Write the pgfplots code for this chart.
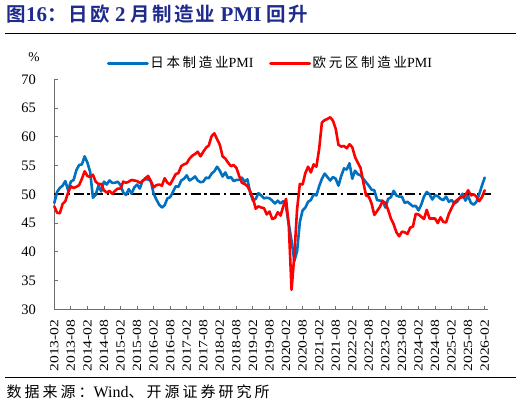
\documentclass[border=0pt]{standalone}
\usepackage{pgfplots}
\pgfplotsset{compat=1.18}
\usepackage{fontspec}
\setmainfont{Liberation Serif}
\newfontfamily\cjk{Noto Sans CJK SC}[BoldFont={Noto Sans CJK SC Bold}]
\definecolor{jpblue}{HTML}{0070C0}
\definecolor{eured}{HTML}{FF0000}
\definecolor{titleblue}{HTML}{1E2A8C}
\definecolor{axisgray}{HTML}{6E6E6E}
\newcommand{\tc}[1]{{\cjk\bfseries\fontsize{19.5}{21}\selectfont\addfontfeature{LetterSpace=11}#1}}
\newcommand{\tl}[1]{{\bfseries\fontsize{21}{22}\selectfont #1}}
\newcommand{\lc}[1]{{\cjk\fontsize{13.5}{15}\selectfont\addfontfeature{LetterSpace=20}#1}}
\newcommand{\srcc}[1]{{\cjk\fontsize{15}{16}\selectfont\addfontfeature{LetterSpace=20}#1}}
\newcommand{\xl}[1]{\scalebox{1.25}[1]{#1}}
\begin{document}
\begin{tikzpicture}
\useasboundingbox (0pt,0pt) rectangle (522pt,-407pt);
\node[anchor=west, inner sep=0pt, text=titleblue] at (6.5pt,-14.5pt) {\tc{图}\tl{16}\tc{：日欧}\tl{\ 2\ }\tc{月制造业}\tl{\ PMI\ }\tc{回升}};
\draw[line width=1pt] (5pt,-33.3pt) -- (516pt,-33.3pt);
\node[inner sep=0pt, font=\fontsize{13.5}{14}\selectfont] at (34pt,-57.5pt) {\%};
\begin{axis}[
  at={(54.3pt,-309.3pt)}, anchor=south west,
  scale only axis, width=433.7pt, height=230pt,
  xmin=0, xmax=157.2, ymin=30, ymax=70,
  axis x line*=bottom, axis y line*=left,
  axis line style={draw=axisgray, line width=0.9pt, -},
  tick style={draw=axisgray, line width=0.9pt},
  tick align=inside,
  major tick length=3.5pt,
  xtick={0,6,...,156},
  xticklabels={\xl{2013-02},\xl{2013-08},\xl{2014-02},\xl{2014-08},\xl{2015-02},\xl{2015-08},\xl{2016-02},\xl{2016-08},\xl{2017-02},\xl{2017-08},\xl{2018-02},\xl{2018-08},\xl{2019-02},\xl{2019-08},\xl{2020-02},\xl{2020-08},\xl{2021-02},\xl{2021-08},\xl{2022-02},\xl{2022-08},\xl{2023-02},\xl{2023-08},\xl{2024-02},\xl{2024-08},\xl{2025-02},\xl{2025-08},\xl{2026-02}},
  xticklabel style={rotate=90, anchor=east, inner sep=0pt, font=\fontsize{12.5}{13}\selectfont},
  xticklabel shift=10pt,
  ytick={30,35,...,70},
  yticklabel style={anchor=east, inner sep=0pt, xshift=-18.3pt, font=\fontsize{14.5}{15}\selectfont},
  /pgf/number format/assume math mode=true,
  clip=false,
  legend columns=2,
  legend style={draw=none, fill=none, at={(0.5,1)}, anchor=center, yshift=16.3pt, xshift=-1pt,
    font=\fontsize{14}{15}\selectfont,
    /tikz/every even column/.append style={column sep=14pt},
    nodes={inner sep=1.5pt}},
  legend cell align=left,
  legend image code/.code={\draw[#1, line width=3pt] (0pt,0pt) -- (39pt,0pt);},
]
\addplot[forget plot, black, line width=1.7pt, dash pattern=on 10pt off 3.5pt on 2.5pt off 3.5pt] coordinates {(0,50) (158.4,50)};
\addplot[jpblue, line width=2.6pt, line join=round, line cap=round] coordinates {
(0,48.5) (1,50.4) (2,51.1) (3,51.5) (4,52.3) (5,50.7) (6,52.2) (7,52.5) (8,54.2) (9,55.1) (10,55.2)
(11,56.6) (12,55.5) (13,53.9) (14,49.4) (15,49.9) (16,51.5) (17,50.5) (18,52.2) (19,51.7) (20,52.4) (21,52.0) (22,52.0)
(23,52.2) (24,51.6) (25,50.3) (26,49.9) (27,50.9) (28,50.1) (29,51.2) (30,51.7) (31,51.0) (32,52.4) (33,52.6) (34,52.6)
(35,52.3) (36,50.1) (37,49.1) (38,48.2) (39,47.7) (40,48.1) (41,49.3) (42,49.5) (43,50.4) (44,51.4) (45,51.3) (46,52.4)
(47,52.7) (48,53.3) (49,52.4) (50,52.7) (51,53.1) (52,52.4) (53,52.1) (54,52.2) (55,52.9) (56,52.8) (57,53.6) (58,54.0)
(59,54.8) (60,54.1) (61,53.1) (62,53.8) (63,52.8) (64,53.0) (65,52.3) (66,52.5) (67,52.5) (68,52.9) (69,52.2) (70,52.6)
(71,50.3) (72,48.9) (73,49.2) (74,50.2) (75,49.8) (76,49.3) (77,49.4) (78,49.3) (79,48.9) (80,48.4) (81,48.9) (82,48.4)
(83,48.8) (84,47.8) (85,44.8) (86,41.9) (87,38.4) (88,40.1) (89,45.2) (90,47.2) (91,47.7) (92,48.7) (93,49.0) (94,50.0)
(95,49.8) (96,51.4) (97,52.7) (98,53.6) (99,53.0) (100,52.4) (101,53.0) (102,52.7) (103,51.5) (104,53.2) (105,54.5) (106,54.3)
(107,55.4) (108,52.7) (109,54.1) (110,53.5) (111,53.3) (112,52.7) (113,52.1) (114,51.5) (115,50.8) (116,50.7) (117,49.0) (118,48.9)
(119,48.9) (120,47.7) (121,49.2) (122,49.5) (123,50.6) (124,49.8) (125,49.6) (126,49.6) (127,48.5) (128,48.7) (129,48.3) (130,47.9)
(131,48.0) (132,47.2) (133,48.2) (134,49.6) (135,50.4) (136,50.0) (137,49.1) (138,49.8) (139,49.7) (140,49.2) (141,49.0) (142,49.6)
(143,48.7) (144,49.0) (145,48.4) (146,48.7) (147,49.4) (148,50.1) (149,48.9) (150,49.7) (151,48.5) (152,48.2) (153,48.7) (154,50.0)
(155,51.5) (156,52.9)
};
\addlegendentry{\lc{日本制造业}PMI}
\addplot[eured, line width=2.6pt, line join=round, line cap=round] coordinates {
(0,47.9) (1,46.8) (2,46.7) (3,48.3) (4,48.8) (5,50.3) (6,51.4) (7,51.1) (8,51.3) (9,51.6) (10,52.7)
(11,54.0) (12,53.2) (13,53.0) (14,53.4) (15,52.2) (16,51.8) (17,51.8) (18,50.7) (19,50.3) (20,50.6) (21,50.1) (22,50.6)
(23,51.0) (24,51.0) (25,52.2) (26,52.0) (27,52.2) (28,52.5) (29,52.4) (30,52.3) (31,52.0) (32,52.3) (33,52.8) (34,53.2)
(35,52.3) (36,51.2) (37,51.6) (38,51.7) (39,51.5) (40,52.8) (41,52.0) (42,51.7) (43,52.6) (44,53.5) (45,53.7) (46,54.9)
(47,55.2) (48,55.4) (49,56.2) (50,56.7) (51,57.0) (52,57.4) (53,56.6) (54,57.4) (55,58.1) (56,58.5) (57,60.1) (58,60.6)
(59,59.6) (60,58.6) (61,56.6) (62,56.2) (63,55.5) (64,54.9) (65,55.1) (66,54.6) (67,53.2) (68,52.0) (69,51.8) (70,51.4)
(71,50.5) (72,49.3) (73,47.5) (74,47.9) (75,47.7) (76,47.6) (77,46.5) (78,47.0) (79,45.7) (80,45.9) (81,46.9) (82,46.3)
(83,47.9) (84,49.2) (85,44.5) (86,33.4) (87,39.4) (88,47.4) (89,51.8) (90,51.7) (91,53.7) (92,54.8) (93,53.8) (94,55.2)
(95,54.8) (96,57.9) (97,62.5) (98,62.9) (99,63.1) (100,63.4) (101,62.8) (102,61.4) (103,58.6) (104,58.3) (105,58.4) (106,58.0)
(107,58.7) (108,58.2) (109,56.5) (110,55.5) (111,54.6) (112,52.1) (113,49.8) (114,49.6) (115,48.4) (116,46.4) (117,47.1) (118,47.8)
(119,48.8) (120,48.5) (121,47.3) (122,45.8) (123,44.8) (124,43.4) (125,42.7) (126,43.5) (127,43.4) (128,43.1) (129,44.2) (130,44.4)
(131,46.6) (132,46.5) (133,46.1) (134,45.7) (135,47.3) (136,45.8) (137,45.8) (138,45.8) (139,45.0) (140,46.0) (141,45.2) (142,45.1)
(143,46.6) (144,47.6) (145,48.6) (146,49.0) (147,49.4) (148,49.5) (149,49.8) (150,50.7) (151,49.8) (152,50.0) (153,49.6) (154,48.8)
(155,49.5) (156,50.7)
};
\addlegendentry{\lc{欧元区制造业}PMI}
\end{axis}
\draw[line width=1pt] (5pt,-377.3pt) -- (516pt,-377.3pt);
\node[anchor=west, inner sep=0pt] at (6.5pt,-392pt) {\srcc{数据来源：}{\fontsize{16}{16}\selectfont Wind}\srcc{、开源证券研究所}};
\end{tikzpicture}
\end{document}
